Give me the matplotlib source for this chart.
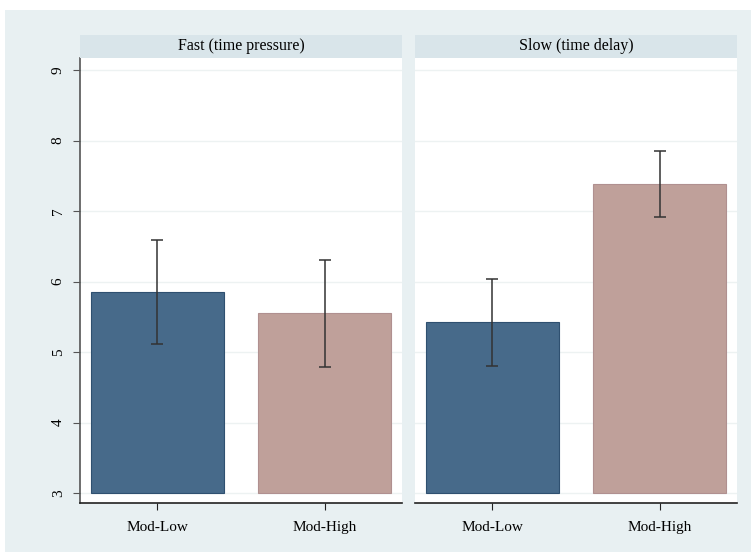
import matplotlib
matplotlib.use("Agg")
import matplotlib.pyplot as plt
from matplotlib.patches import Rectangle

panels = ["Fast (time pressure)", "Slow (time delay)"]
categories = ["Mod-Low", "Mod-High"]
means = [[5.85, 5.55], [5.43, 7.38]]
lower = [[5.11, 4.79], [4.80, 6.91]]
upper = [[6.59, 6.30], [6.04, 7.85]]
yticks = [3, 4, 5, 6, 7, 8, 9]

colors = ["#476a8a", "#bfa09a"]
edges = ["#2f5070", "#b09090"]

plt.rcParams['font.family'] = ['Liberation Serif', 'DejaVu Serif']

W, H = 751, 552
fig = plt.figure(figsize=(W / 100, H / 100), dpi=100, facecolor="white")
fig.patches.append(Rectangle((5 / W, 0), 1 - 5 / W, 1 - 10 / H, transform=fig.transFigure,
                             facecolor="#e8f0f2", edgecolor="none", zorder=-10))

ax_lefts = [80, 415]
ax_w = 322
ax_top, ax_bot = 58, 503
strip_top = 35

for i, name in enumerate(panels):
    x0 = ax_lefts[i]
    ax = fig.add_axes([x0 / W, 1 - ax_bot / H, ax_w / W, (ax_bot - ax_top) / H])
    ax.set_facecolor("white")
    pos = list(range(len(categories)))
    yerr = [[m - l for m, l in zip(means[i], lower[i])],
            [u - m for m, u in zip(means[i], upper[i])]]
    ax.bar(pos, [m - 3 for m in means[i]], bottom=3, width=0.8, color=colors,
           edgecolor=edges, linewidth=0.8, zorder=2)
    ax.errorbar(pos, means[i], yerr=yerr, fmt="none", ecolor="#333333",
                elinewidth=1.1, capsize=4, capthick=1.1, zorder=3)
    ax.set_xlim(-0.464, 1.464)
    ax.set_ylim(2.86, 9.17)
    ax.set_yticks(yticks)
    ax.grid(axis="y", color="#edf2f2", linewidth=1.0, zorder=0)
    ax.set_axisbelow(True)
    ax.set_xticks(pos)
    ax.set_xticklabels(categories, fontsize=11)
    for s in ["top", "right"]:
        ax.spines[s].set_visible(False)
    ax.spines["bottom"].set_color("#222222")
    ax.spines["bottom"].set_linewidth(1.2)
    ax.tick_params(axis="x", length=5, color="#222222", pad=8)
    if i == 0:
        ax.spines["left"].set_color("#555555")
        ax.spines["left"].set_linewidth(1.2)
        ax.set_yticklabels([str(t) for t in yticks], rotation=90, va="center", fontsize=11)
        ax.tick_params(axis="y", length=5, color="#555555", pad=6)
    else:
        ax.spines["left"].set_visible(False)
        ax.tick_params(axis="y", length=0, labelleft=False)
    # strip
    sax = fig.add_axes([x0 / W, 1 - ax_top / H, ax_w / W, (ax_top - strip_top) / H])
    sax.set_facecolor("#d9e5ea")
    for s in sax.spines.values():
        s.set_visible(False)
    sax.set_xticks([])
    sax.set_yticks([])
    sax.text(0.5, 0.5, name, ha="center", va="center", fontsize=11.5, transform=sax.transAxes)

fig.savefig("out.png", dpi=100, facecolor="white")
